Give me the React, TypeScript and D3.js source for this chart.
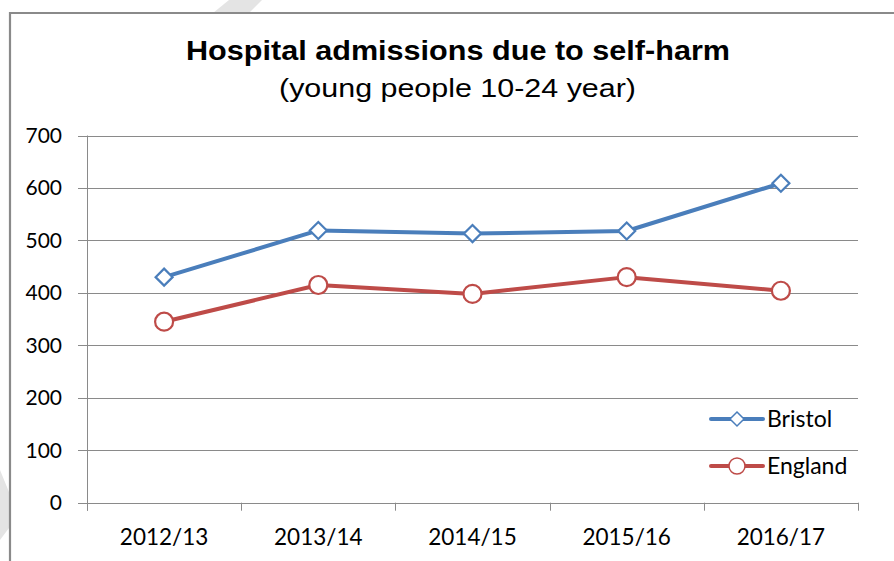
import React from "react";
import * as d3 from "d3";

const categories = ["2012/13", "2013/14", "2014/15", "2015/16", "2016/17"];
const bristol = [430, 519, 513, 518, 609];
const england = [345, 415, 398, 430, 404];
const yTicks = [0, 100, 200, 300, 400, 500, 600, 700];
const seriesNames = ["Bristol", "England"];
const title = "Hospital admissions due to self-harm";
const subtitle = "(young people 10-24 year)";

const W = 894;
const H = 561;
const BLUE = "#4A7EBB";
const RED = "#BE4B48";
const GRID = "#8a8a8a";
const TICKFONT = "Lato, 'Noto Sans', sans-serif";

export default function App() {
  const left = 87;
  const right = 858;
  const top = 135.5;
  const bottom = 502.7;
  const x = d3.scaleBand<string>().domain(categories).range([left, right]);
  const y = d3.scaleLinear().domain([0, 700]).range([bottom, top]);
  const cx = (c: string) => (x(c) as number) + x.bandwidth() / 2;

  const line = d3
    .line<number>()
    .x((_, i) => cx(categories[i]))
    .y((d) => y(d));

  const diamond = (px: number, py: number, s: number) =>
    `M${px},${py - s}L${px + s},${py}L${px},${py + s}L${px - s},${py}Z`;

  const boundaries = [...categories.map((c) => x(c) as number), right];

  const legendItems = [
    { name: seriesNames[0], color: BLUE, yy: 419, shape: "diamond" },
    { name: seriesNames[1], color: RED, yy: 466, shape: "circle" },
  ];

  return (
    <svg
      width={W}
      height={H}
      style={{ position: "absolute", left: 0, top: 0, background: "#fff" }}
    >
      <rect x={0} y={0} width={W} height={H} fill="#fff" />
      {/* faint watermark stripes */}
      <polygon points="213,13 229,0 262,0 249,13" fill="#e4e4e4" />
      <polygon points="0,470 9,492 9,528 0,540" fill="#e4e4e4" />
      {/* chart border */}
      <path d={`M10,${H + 5}V13H${W + 5}`} fill="none" stroke="#8a8a8a" strokeWidth={2.2} />

      {/* title */}
      <text
        x={458}
        y={59.5}
        textAnchor="middle"
        fontFamily="'Liberation Sans', Arial, sans-serif"
        fontWeight="bold"
        fontSize={27}
        textLength={544}
        lengthAdjust="spacingAndGlyphs"
        fill="#000"
      >
        {title}
      </text>
      <text
        x={457.5}
        y={97}
        textAnchor="middle"
        fontFamily="'Liberation Sans', Arial, sans-serif"
        fontSize={26}
        textLength={357}
        lengthAdjust="spacingAndGlyphs"
        fill="#000"
      >
        {subtitle}
      </text>

      {/* gridlines */}
      {yTicks.map((t) => (
        <g key={t}>
          <line
            x1={78}
            x2={right}
            y1={Math.round(y(t)) + 0.5}
            y2={Math.round(y(t)) + 0.5}
            stroke={GRID}
            strokeWidth={1}
          />
          <text
            x={62}
            y={y(t) + 7.5}
            textAnchor="end"
            fontFamily={TICKFONT}
            fontSize={21}
            fill="#000"
          >
            {t}
          </text>
        </g>
      ))}
      {/* y axis line */}
      <line x1={left + 0.5} x2={left + 0.5} y1={top} y2={bottom + 8} stroke={GRID} strokeWidth={1} />
      {/* x ticks */}
      {boundaries.map((b, i) => (
        <line
          key={i}
          x1={Math.round(b) + 0.5}
          x2={Math.round(b) + 0.5}
          y1={bottom}
          y2={bottom + 8}
          stroke={GRID}
          strokeWidth={1}
        />
      ))}
      {categories.map((c) => (
        <text
          key={c}
          x={cx(c)}
          y={545}
          textAnchor="middle"
          fontFamily={TICKFONT}
          fontSize={22.5}
          fill="#000"
        >
          {c}
        </text>
      ))}

      {/* series */}
      <path d={line(bristol) || ""} fill="none" stroke={BLUE} strokeWidth={4} strokeLinejoin="round" />
      <path d={line(england) || ""} fill="none" stroke={RED} strokeWidth={4} strokeLinejoin="round" />
      {bristol.map((v, i) => (
        <path
          key={"b" + i}
          d={diamond(cx(categories[i]), y(v), 8.5)}
          fill="#fff"
          stroke={BLUE}
          strokeWidth={2.2}
        />
      ))}
      {england.map((v, i) => (
        <circle
          key={"e" + i}
          cx={cx(categories[i])}
          cy={y(v)}
          r={9}
          fill="#fff"
          stroke={RED}
          strokeWidth={2.2}
        />
      ))}

      {/* legend */}
      {legendItems.map((it) => (
        <g key={it.name}>
          <line x1={711} x2={763} y1={it.yy} y2={it.yy} stroke={it.color} strokeWidth={4} strokeLinecap="round" />
          {it.shape === "diamond" ? (
            <path d={diamond(737, it.yy, 7)} fill="#fff" stroke={it.color} strokeWidth={1.5} />
          ) : (
            <circle cx={737} cy={it.yy} r={8} fill="#fff" stroke={it.color} strokeWidth={1.5} />
          )}
          <text x={767} y={it.yy + 8} fontFamily={TICKFONT} fontSize={23} fill="#000">
            {it.name}
          </text>
        </g>
      ))}
    </svg>
  );
}
